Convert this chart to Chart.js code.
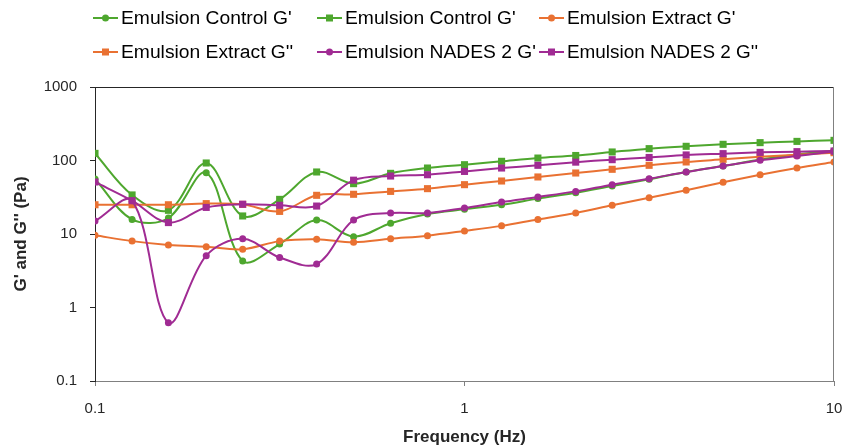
<!DOCTYPE html>
<html><head><meta charset="utf-8">
<script src="https://cdn.jsdelivr.net/npm/chart.js@4/dist/chart.umd.min.js"></script>
<style>html,body{margin:0;padding:0;background:#fff}</style>
</head><body>
<canvas id="c" width="845" height="448"></canvas>
<script>
const frequencies = [0.1, 0.126, 0.158, 0.2, 0.251, 0.316, 0.398, 0.501, 0.631, 0.794, 1, 1.26, 1.58, 2, 2.51, 3.16, 3.98, 5.01, 6.31, 7.94, 10];
const controlGp  = [56, 15.8, 16.5, 68, 4.3, 7.3, 15.5, 9.2, 14, 18.7, 21.7, 25, 30.3, 36.5, 45, 55.5, 69.8, 84, 103, 121, 136];
const controlGpp = [125, 34, 21, 92.5, 17.6, 29.6, 69.8, 48.4, 66.9, 79, 87.7, 97.5, 108, 117, 130.6, 145, 156, 166, 175, 182, 188];
const extractGp  = [9.6, 8.0, 7.1, 6.7, 6.2, 8.0, 8.5, 7.7, 8.6, 9.5, 11, 12.9, 15.8, 19.3, 24.6, 31.2, 39.3, 50.5, 64, 79, 95.5];
const extractGpp = [25, 25, 25, 25.9, 25.3, 20.3, 33.6, 34.7, 38, 41.4, 46.9, 52.6, 59.7, 67.6, 75.9, 86, 95.5, 103.8, 112.7, 120, 127.7];
const nadesGp    = [15, 28.4, 0.62, 5.07, 8.6, 4.8, 3.9, 15.5, 19.3, 19.3, 22.6, 27.2, 31.9, 38, 46.9, 56.6, 69.8, 84, 100.5, 115, 133];
const nadesGpp   = [51, 28.4, 14.3, 23, 25.4, 24.6, 24, 54, 61.5, 64, 71, 79, 86, 95, 102.6, 110, 119, 124, 129, 132, 134.6];
const seriesLabels = ["Emulsion Control G'", "Emulsion Control G'", "Emulsion Extract G'", "Emulsion Extract G''", "Emulsion NADES 2 G'", "Emulsion NADES 2 G''"];
const yTickValues = [0.1, 1, 10, 100, 1000];
const xTickValues = [0.1, 1, 10];

const GREEN = '#4EA72E', ORANGE = '#E97132', PURPLE = '#A02B93';
const seriesValues = [controlGp, controlGpp, extractGp, extractGpp, nadesGp, nadesGpp];
const seriesColors = [GREEN, GREEN, ORANGE, ORANGE, PURPLE, PURPLE];
const seriesMarkers = ['circle', 'rect', 'circle', 'rect', 'circle', 'rect'];

const FONT = '"Liberation Sans", Arial, sans-serif';

const datasets = seriesValues.map((vals, i) => ({
  label: seriesLabels[i],
  data: frequencies.map((f, j) => ({x: f, y: vals[j]})),
  borderColor: seriesColors[i],
  backgroundColor: seriesColors[i],
  pointBackgroundColor: seriesColors[i],
  pointBorderColor: seriesColors[i],
  pointStyle: seriesMarkers[i],
  pointRadius: seriesMarkers[i] === 'rect' ? 5 : 3.5,
  pointBorderWidth: 0,
  borderWidth: 2,
  tension: 0.35,
  fill: false,
  order: 5 - i
}));

// legend grid: 3 columns x 2 rows
const legendPlugin = {
  id: 'customLegend',
  afterDraw(chart) {
    const ctx = chart.ctx;
    ctx.save();
    ctx.font = '18px ' + FONT;
    ctx.textBaseline = 'middle';
    const stretch = 1.07;
    const colX = [93, 317, 539];
    const colW = 223;
    const rowY = [18, 52];
    chart.data.datasets.forEach((ds, i) => {
      const x = colX[i % 3], y = rowY[Math.floor(i / 3)];
      ctx.strokeStyle = ds.borderColor;
      ctx.lineWidth = 2;
      ctx.beginPath(); ctx.moveTo(x, y); ctx.lineTo(x + 25, y); ctx.stroke();
      ctx.fillStyle = ds.borderColor;
      if (ds.pointStyle === 'rect') {
        ctx.fillRect(x + 12.5 - 3.5, y - 3.5, 7, 7);
      } else {
        ctx.beginPath(); ctx.arc(x + 12.5, y, 3.5, 0, Math.PI * 2); ctx.fill();
      }
      ctx.fillStyle = '#000';
      ctx.save();
      ctx.translate(x + 28, y + 1);
      ctx.scale(stretch, 1);
      ctx.fillText(ds.label, 0, 0, (colW - 32) / stretch);
      ctx.restore();
    });
    ctx.restore();
  }
};

const framePlugin = {
  id: 'frame',
  afterDraw(chart) {
    const a = chart.chartArea, ctx = chart.ctx;
    ctx.save();
    ctx.lineWidth = 1;
    ctx.strokeStyle = '#262626';
    ctx.beginPath(); ctx.moveTo(a.left - 5, Math.round(a.top) + 0.5); ctx.lineTo(a.right, Math.round(a.top) + 0.5); ctx.stroke();
    ctx.strokeStyle = '#808080';
    ctx.beginPath(); ctx.moveTo(Math.round(a.right) - 0.5, a.top); ctx.lineTo(Math.round(a.right) - 0.5, a.bottom); ctx.stroke();
    ctx.restore();
  }
};

new Chart(document.getElementById('c'), {
  type: 'line',
  data: { datasets },
  plugins: [legendPlugin, framePlugin],
  options: {
    responsive: false,
    animation: false,
    devicePixelRatio: 1,
    layout: { padding: { top: 87, right: 11, bottom: 0, left: 0 } },
    plugins: { legend: { display: false }, tooltip: { enabled: false } },
    scales: {
      x: {
        type: 'logarithmic', min: 0.1, max: 10,
        afterBuildTicks: s => { s.ticks = xTickValues.map(v => ({ value: v })); },
        afterFit: s => { s.height = 67; s.paddingLeft = 0; s.paddingRight = 0; },
        ticks: { callback: v => String(v), autoSkip: false, maxRotation: 0, color: '#262626', font: { family: FONT, size: 15 }, padding: 14 },
        grid: { drawOnChartArea: false, drawTicks: true, tickLength: 5, color: '#808080' },
        border: { display: true, color: '#808080', width: 1 },
        title: { display: true, text: 'Frequency (Hz)', color: '#262626', font: { family: FONT, size: 17, weight: 'bold' }, padding: { top: 4, bottom: 0 } }
      },
      y: {
        type: 'logarithmic', min: 0.1, max: 1000,
        afterBuildTicks: s => { s.ticks = yTickValues.map(v => ({ value: v })); },
        afterFit: s => { s.width = 95; },
        ticks: { callback: v => String(v), autoSkip: false, color: '#262626', font: { family: FONT, size: 15 }, padding: 13 },
        grid: { drawOnChartArea: false, drawTicks: true, tickLength: 5, color: '#262626' },
        border: { display: true, color: '#262626', width: 1 },
        title: { display: true, text: "G' and G'' (Pa)", color: '#262626', font: { family: FONT, size: 17, weight: 'bold' }, padding: { top: 11, bottom: 4 } }
      }
    }
  }
});
</script>
</body></html>
